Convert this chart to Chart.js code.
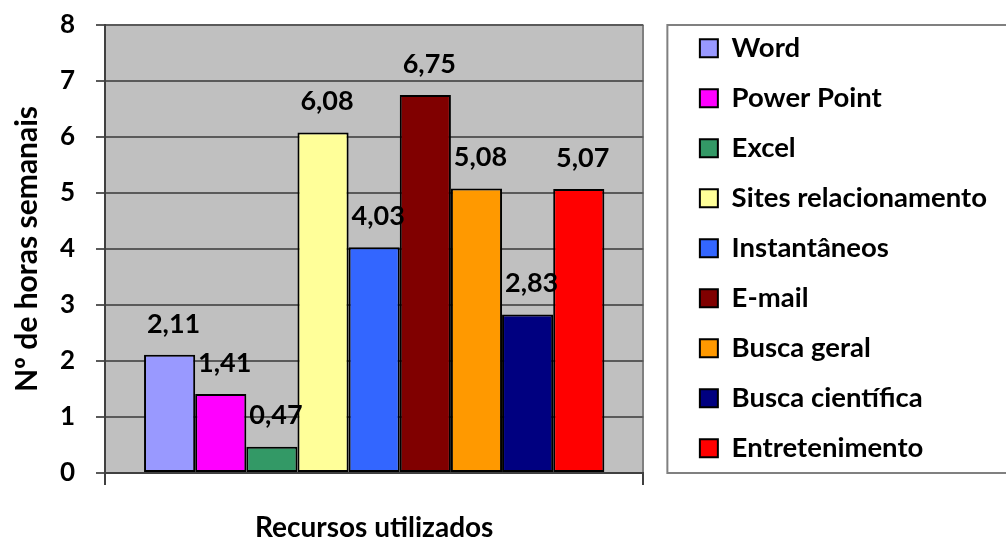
<!DOCTYPE html>
<html>
<head>
<meta charset="utf-8">
<script src="https://cdn.jsdelivr.net/npm/chart.js@4"></script>
<style>
  body { margin: 0; background: #fff; }
  #wrap { width: 1006px; height: 542px; }
</style>
</head>
<body>
<div id="wrap"><canvas id="myChart" width="1006" height="542"></canvas></div>
<script>
// data
const categories = [''];
const seriesNames = ['Word', 'Power Point', 'Excel', 'Sites relacionamento', 'Instantâneos', 'E-mail', 'Busca geral', 'Busca científica', 'Entretenimento'];
const seriesValues = [2.11, 1.41, 0.47, 6.08, 4.03, 6.75, 5.08, 2.83, 5.07];
const seriesColors = ['#9999FF', '#FF00FF', '#339966', '#FFFF99', '#3366FF', '#800000', '#FF9900', '#000080', '#FF0000'];
const yTicks = [0, 1, 2, 3, 4, 5, 6, 7, 8];

const FONT = 'Lato';

// gray plot background
const plotBg = {
  id: 'plotBg',
  beforeDraw(chart) {
    const a = chart.chartArea, ctx = chart.ctx;
    ctx.save();
    ctx.fillStyle = '#C0C0C0';
    ctx.fillRect(a.left, a.top, a.right - a.left, a.bottom - a.top);
    ctx.restore();
  }
};

// value labels over the bars
const valueLabels = {
  id: 'valueLabels',
  afterDatasetsDraw(chart) {
    const ctx = chart.ctx;
    ctx.save();
    ctx.font = 'bold 27px ' + FONT;
    ctx.fillStyle = '#000';
    ctx.textAlign = 'center';
    ctx.textBaseline = 'middle';
    chart.data.datasets.forEach((ds, i) => {
      const bar = chart.getDatasetMeta(i).data[0];
      const txt = ds.data[0].toFixed(2).replace('.', ',');
      ctx.fillText(txt, bar.x + 4, bar.y - 31);
    });
    ctx.restore();
  }
};

// frame round the legend
const legendFrame = {
  id: 'legendFrame',
  afterDraw(chart) {
    const l = chart.legend, a = chart.chartArea, ctx = chart.ctx;
    ctx.save();
    ctx.strokeStyle = '#808080';
    ctx.lineWidth = 2;
    ctx.strokeRect(l.left - 10, a.top, 420, a.bottom - a.top);
    ctx.restore();
  }
};

const ctx = document.getElementById('myChart').getContext('2d');
const myChart = new Chart(ctx, {
  type: 'bar',
  data: {
    labels: categories,
    datasets: seriesNames.map((name, i) => ({
      label: name,
      data: [seriesValues[i]],
      backgroundColor: seriesColors[i],
      borderColor: '#000',
      borderWidth: 2,
      borderSkipped: false,
      barPercentage: 1,
      categoryPercentage: 0.855
    }))
  },
  options: {
    responsive: false,
    animation: false,
    devicePixelRatio: 1,
    layout: { padding: { top: 12, left: 0, right: 9, bottom: 0 } },
    plugins: {
      tooltip: { enabled: false },
      legend: {
        position: 'right',
        align: 'start',
        maxWidth: 500,
        labels: {
          color: '#000',
          font: { family: FONT, size: 27.5, weight: 'bold' },
          boxWidth: 18,
          boxHeight: 18,
          padding: 22.5
        }
      }
    },
    scales: {
      x: {
        grid: { color: '#808080', lineWidth: 2, tickLength: 12, tickColor: '#404040' },
        border: { color: '#404040', width: 2 },
        ticks: { display: false },
        title: {
          display: true,
          text: 'Recursos utilizados',
          color: '#000',
          font: { family: FONT, size: 28, weight: 'bold', lineHeight: 1 },
          padding: { top: 29, bottom: 0 }
        }
      },
      y: {
        min: 0,
        max: 8,
        afterBuildTicks: s => { s.ticks = yTicks.map(v => ({ value: v })); },
        afterFit: s => { s.width = 105; s.paddingTop = 25; },
        grid: { color: '#5a5a5a', lineWidth: 2, tickLength: 9, tickColor: '#5a5a5a' },
        border: { color: '#404040', width: 2 },
        ticks: {
          color: '#000',
          padding: 21,
          font: { family: FONT, size: 26, weight: 'bold', lineHeight: 1 }
        },
        title: {
          display: true,
          text: 'Nº de horas semanais',
          color: '#000',
          font: { family: FONT, size: 30, weight: 'bold', lineHeight: 1 },
          padding: { top: 12, bottom: 0 }
        }
      },
      gap: {
        position: 'right',
        display: true,
        grid: { display: false },
        border: { display: false },
        ticks: { display: false },
        afterFit: s => { s.width = 34; }
      }
    }
  },
  plugins: [plotBg, valueLabels, legendFrame]
});
</script>
</body>
</html>
